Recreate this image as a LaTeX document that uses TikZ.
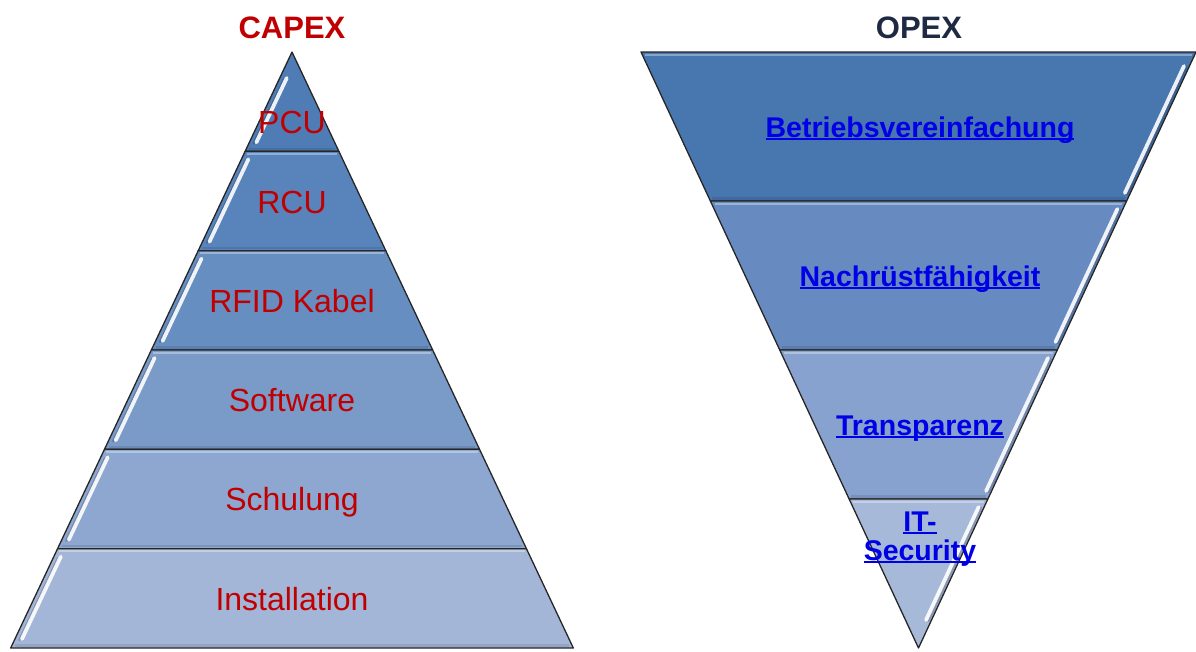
\documentclass[tikz,border=0pt]{standalone}
\usepackage{fontspec}
\setmainfont{Liberation Sans}
\usetikzlibrary{calc}
\definecolor{capred}{RGB}{192,0,0}
\definecolor{opexnavy}{RGB}{30,42,66}
\definecolor{linkblue}{RGB}{0,0,230}
\definecolor{L1}{HTML}{4F7CB5}
\definecolor{L2}{HTML}{5884BB}
\definecolor{L3}{HTML}{678EC1}
\definecolor{L4}{HTML}{7A9AC8}
\definecolor{L5}{HTML}{8DA7D0}
\definecolor{L6}{HTML}{A4B6D7}
\definecolor{R1}{HTML}{4876AF}
\definecolor{R2}{HTML}{678BC1}
\definecolor{R3}{HTML}{87A2CE}
\definecolor{R4}{HTML}{A7B9D9}
\newcommand\linkul[1]{\setbox0=\hbox{#1}\rlap{\rule[-3pt]{\wd0}{1.8pt}}\box0}
\begin{document}
\begin{tikzpicture}[x=1pt,y=-1pt,
  levelbox/.style={draw=black!85, line width=1.3pt, line join=round},
  gloss/.style={white, line width=3.8pt, line cap=round, opacity=0.9},
  glossshade/.style={black, line width=2.5pt, line cap=round, opacity=0.18},
  tophl/.style={white, line width=2pt, opacity=0.35},
  botsh/.style={black, line width=2.5pt, opacity=0.10},
  lab/.style={font=\fontsize{32}{36}\selectfont, text=capred, inner sep=0pt, anchor=base},
  rlab/.style={font=\bfseries\fontsize{28.5}{29}\selectfont, text=linkblue, inner sep=0pt, anchor=base},
  ttl/.style={font=\bfseries\fontsize{31}{34}\selectfont, inner sep=0pt, anchor=base}]
\useasboundingbox (0,0) rectangle (1196,651);

% ---------- CAPEX pyramid ----------
\foreach \k/\c in {1/L1,2/L2,3/L3,4/L4,5/L5,6/L6}{
  \pgfmathsetmacro\ya{52+(\k-1)*99.333}
  \pgfmathsetmacro\yb{52+\k*99.333}
  \pgfmathsetmacro\wa{0.472*(\ya-52)}
  \pgfmathsetmacro\wb{0.472*(\yb-52)}
  \fill[\c] ({292-\wa},\ya) -- ({292+\wa},\ya) -- ({292+\wb},\yb) -- ({292-\wb},\yb) -- cycle;
  % bevel
  \pgfmathsetmacro\ta{\ya+2.5}
  \pgfmathsetmacro\tb{\yb-2.5}
  \pgfmathsetmacro\wta{0.472*(\ta-52)}
  \pgfmathsetmacro\wtb{0.472*(\tb-52)}
  \ifnum\k>1 \draw[tophl] ({292-\wta+3},\ta) -- ({292+\wta-3},\ta); \fi
  \draw[botsh] ({292-\wtb+3},\tb) -- ({292+\wtb-3},\tb);
  % gloss streak
  \pgfmathsetmacro\ga{\ya+ifthenelse(\k==1,26,8)}
  \pgfmathsetmacro\gb{\yb-9}
  \pgfmathsetmacro\xa{292-0.472*(\ga-52)+7}
  \pgfmathsetmacro\xb{292-0.472*(\gb-52)+7}
  \draw[glossshade] ({\xa-2.5},{\ga+1}) -- ({\xb-2.5},{\gb+1});
  \draw[gloss] (\xa,\ga) -- (\xb,\gb);
  \draw[levelbox] ({292-\wa},\ya) -- ({292+\wa},\ya) -- ({292+\wb},\yb) -- ({292-\wb},\yb) -- cycle;
}

% ---------- OPEX inverted pyramid ----------
\foreach \k/\c in {1/R1,2/R2,3/R3,4/R4}{
  \pgfmathsetmacro\ya{52+(\k-1)*149}
  \pgfmathsetmacro\yb{52+\k*149}
  \pgfmathsetmacro\wa{0.4656*(648-\ya)}
  \pgfmathsetmacro\wb{0.4656*(648-\yb)}
  \fill[\c] ({918.5-\wa},\ya) -- ({918.5+\wa},\ya) -- ({918.5+\wb},\yb) -- ({918.5-\wb},\yb) -- cycle;
  % bevel
  \pgfmathsetmacro\ta{\ya+2.5}
  \pgfmathsetmacro\tb{\yb-2.5}
  \pgfmathsetmacro\wta{0.4656*(648-\ta)}
  \pgfmathsetmacro\wtb{0.4656*(648-\tb)}
  \draw[tophl] ({918.5-\wta+3},\ta) -- ({918.5+\wta-3},\ta);
  \ifnum\k<4 \draw[botsh] ({918.5-\wtb+3},\tb) -- ({918.5+\wtb-3},\tb); \fi
  % gloss streak
  \pgfmathsetmacro\ga{\ya+ifthenelse(\k==1,14,8)}
  \pgfmathsetmacro\gb{\yb-ifthenelse(\k==4,28,8)}
  \pgfmathsetmacro\xa{918.5+0.4656*(648-\ga)-5.5}
  \pgfmathsetmacro\xb{918.5+0.4656*(648-\gb)-5.5}
  \draw[glossshade] ({\xa+2.5},{\ga+1}) -- ({\xb+2.5},{\gb+1});
  \draw[gloss] (\xa,\ga) -- (\xb,\gb);
  \draw[levelbox] ({918.5-\wa},\ya) -- ({918.5+\wa},\ya) -- ({918.5+\wb},\yb) -- ({918.5-\wb},\yb) -- cycle;
}

% ---------- titles ----------
\node[ttl, text=capred] (capex) at (292,38) {CAPEX};
\node[ttl, text=opexnavy] (opex) at (919,38) {OPEX};

% ---------- CAPEX labels ----------
\node[lab] (pcu) at (292,133) {PCU};
\node[lab] (rcu) at (292,213) {RCU};
\node[lab] (rfid) at (292,312) {RFID Kabel};
\node[lab] (sw) at (292,411) {Software};
\node[lab] (schul) at (292,510) {Schulung};
\node[lab] (inst) at (292,610) {Installation};

% ---------- OPEX labels ----------
\node[rlab] (betr) at (920,137) {\linkul{Betriebsvereinfachung}};
\node[rlab] (nach) at (920,286) {\linkul{Nachrüstfähigkeit}};
\node[rlab] (trans) at (920,435) {\linkul{Transparenz}};
\node[rlab] (it1) at (920,531) {\linkul{IT-}};
\node[rlab] (it2) at (920,560) {\linkul{Security}};
\end{tikzpicture}
\end{document}
